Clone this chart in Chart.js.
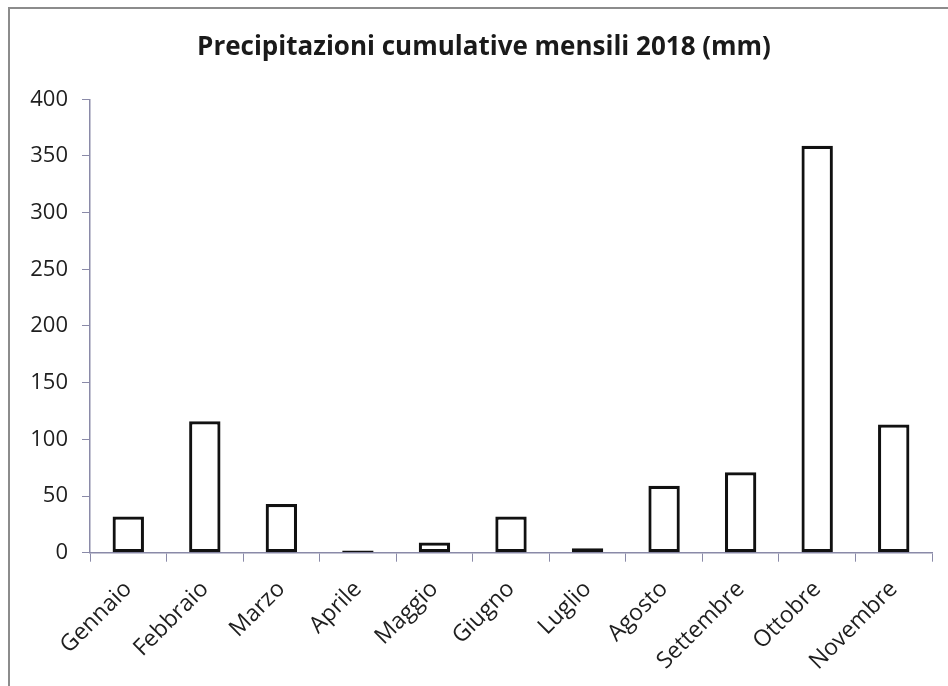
<!DOCTYPE html>
<html>
<head>
<meta charset="utf-8">
<script src="https://cdn.jsdelivr.net/npm/chart.js@4"></script>
<style>
  body { margin: 0; background: #fff; }
  #wrap { position: relative; width: 948px; height: 686px; }
  #frame { position: absolute; left: 8px; top: 7px; width: 1000px; height: 700px;
           border-left: 2px solid #8c8c8c; border-top: 2px solid #8c8c8c; }
  #myChart { position: absolute; left: 0; top: 0; }
</style>
</head>
<body>
<div id="wrap">
  <div id="frame"></div>
  <canvas id="myChart" width="948" height="686"></canvas>
</div>
<script>
const months = ['Gennaio', 'Febbraio', 'Marzo', 'Aprile', 'Maggio', 'Giugno',
                'Luglio', 'Agosto', 'Settembre', 'Ottobre', 'Novembre'];
const rainMm = [32, 116, 43, 2, 9, 32, 4, 59, 71, 359, 113];
const yTicks = [0, 50, 100, 150, 200, 250, 300, 350, 400];

const axisColor = '#8a8aa8';

const ctx = document.getElementById('myChart').getContext('2d');

const myChart = new Chart(ctx, {
    type: 'bar',
    data: {
        labels: months,
        datasets: [{
            data: rainMm,
            backgroundColor: '#ffffff',
            borderColor: '#111111',
            borderWidth: 3.2,
            borderSkipped: false,
            barPercentage: 0.41,
            categoryPercentage: 1
        }]
    },
    options: {
        responsive: false,
        animation: false,
        layout: {
            padding: { left: 20, right: 0, top: 0, bottom: 0 }
        },
        scales: {
            x: {
                offset: true,
                grid: {
                    offset: true,
                    drawOnChartArea: false,
                    tickLength: 9,
                    color: axisColor
                },
                border: { color: axisColor, width: 1.5 },
                ticks: {
                    minRotation: 45,
                    maxRotation: 45,
                    padding: 14,
                    color: '#1e1e1e',
                    font: { family: 'Open Sans', size: 23 }
                },
                afterFit: function(scale) { scale.height = 133.3; }
            },
            y: {
                min: 0,
                max: 400,
                afterBuildTicks: function(scale) {
                    scale.ticks = yTicks.map(v => ({ value: v }));
                },
                grid: {
                    drawOnChartArea: false,
                    tickLength: 8,
                    color: axisColor
                },
                border: { color: axisColor, width: 1.5 },
                ticks: {
                    padding: 14,
                    color: '#1e1e1e',
                    font: { family: 'Open Sans', size: 22 }
                },
                afterFit: function(scale) { scale.width = 70; }
            },
            // empty spacer on the right so the title stays centred like the original
            spacer: {
                type: 'linear',
                position: 'right',
                grid: { display: false },
                border: { display: false },
                ticks: { display: false },
                afterFit: function(scale) { scale.width = 16; }
            }
        },
        plugins: {
            legend: { display: false },
            tooltip: { enabled: false },
            title: {
                display: true,
                text: 'Precipitazioni cumulative mensili 2018 (mm)',
                color: '#1a1a1a',
                font: { family: 'Open Sans', size: 26, weight: 'bold', lineHeight: 1.2 },
                padding: { top: 32.4, bottom: 35.7 }
            }
        }
    }
});
</script>
</body>
</html>
